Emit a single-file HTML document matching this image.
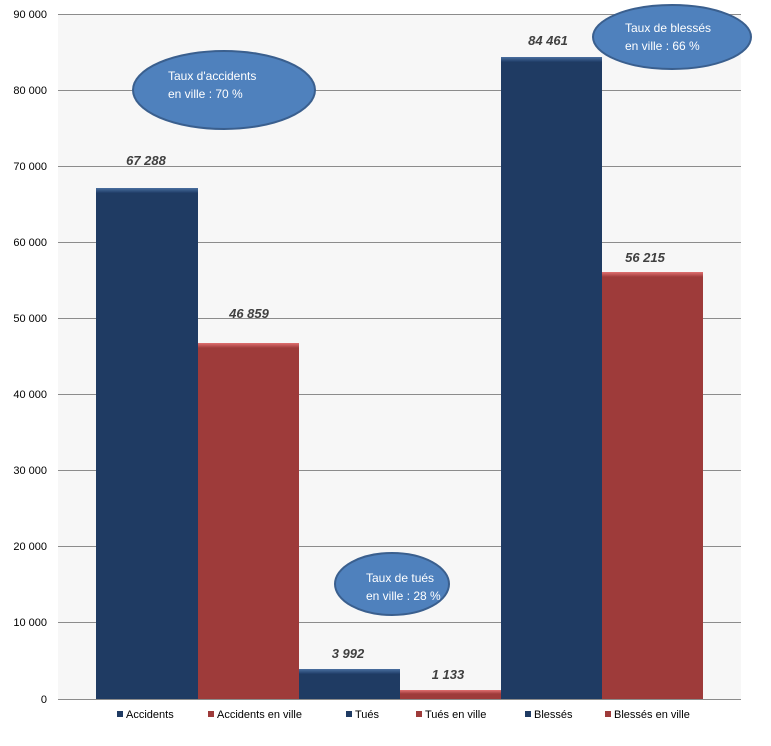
<!DOCTYPE html>
<html><head><meta charset="utf-8"><style>body{margin:0;background:#fff}svg{display:block}</style></head><body>
<svg width="771" height="746" xmlns="http://www.w3.org/2000/svg" font-family="Liberation Sans, sans-serif">
<defs>
<linearGradient id="b" x1="0" y1="0" x2="0" y2="1"><stop offset="0" stop-color="#4a6fa0"/><stop offset="1" stop-color="#1f3c66"/></linearGradient>
<linearGradient id="r" x1="0" y1="0" x2="0" y2="1"><stop offset="0" stop-color="#e07070"/><stop offset="1" stop-color="#9e3a3a"/></linearGradient>
</defs>
<rect x="58" y="14" width="683" height="685" fill="#f7f7f7"/>
<g stroke="#8c8c8c" stroke-width="1">
<line x1="58" y1="14.5" x2="741" y2="14.5"/><line x1="58" y1="90.5" x2="741" y2="90.5"/><line x1="58" y1="166.5" x2="741" y2="166.5"/><line x1="58" y1="242.5" x2="741" y2="242.5"/><line x1="58" y1="318.5" x2="741" y2="318.5"/><line x1="58" y1="394.5" x2="741" y2="394.5"/><line x1="58" y1="470.5" x2="741" y2="470.5"/><line x1="58" y1="546.5" x2="741" y2="546.5"/><line x1="58" y1="622.5" x2="741" y2="622.5"/><line x1="58" y1="699.5" x2="741" y2="699.5"/>
</g>
<g font-size="11" fill="#000" text-anchor="end">
<text x="47" y="18">90 000</text><text x="47" y="94">80 000</text><text x="47" y="170">70 000</text><text x="47" y="246">60 000</text><text x="47" y="322">50 000</text><text x="47" y="398">40 000</text><text x="47" y="474">30 000</text><text x="47" y="550">20 000</text><text x="47" y="626">10 000</text><text x="47" y="703">0</text>
</g>
<g>
<rect x="96" y="188" width="102" height="511" fill="#1f3b63"/><rect x="96" y="188" width="102" height="5" fill="url(#b)"/>
<rect x="198" y="343" width="101" height="356" fill="#9e3b3a"/><rect x="198" y="343" width="101" height="5" fill="url(#r)"/>
<rect x="299" y="669" width="101" height="30" fill="#1f3b63"/><rect x="299" y="669" width="101" height="5" fill="url(#b)"/>
<rect x="400" y="690" width="101" height="9" fill="#9e3b3a"/><rect x="400" y="690" width="101" height="4" fill="url(#r)"/>
<rect x="501" y="57" width="101" height="642" fill="#1f3b63"/><rect x="501" y="57" width="101" height="5" fill="url(#b)"/>
<rect x="602" y="272" width="101" height="427" fill="#9e3b3a"/><rect x="602" y="272" width="101" height="5" fill="url(#r)"/>
</g>
<g font-size="13" font-weight="bold" font-style="italic" fill="#404040" text-anchor="middle">
<text x="146" y="165">67 288</text><text x="249" y="318">46 859</text><text x="348" y="658">3 992</text><text x="448" y="679">1 133</text><text x="548" y="45">84 461</text><text x="645" y="262">56 215</text>
</g>
<g fill="#4f81bd" stroke="#3a5f8e" stroke-width="2">
<ellipse cx="224" cy="90" rx="91" ry="39"/><ellipse cx="672" cy="37" rx="79" ry="32"/><ellipse cx="392" cy="584" rx="57" ry="31"/>
</g>
<g font-size="12" fill="#fff">
<text x="168" y="80">Taux d'accidents</text><text x="168" y="98">en ville : 70 %</text>
<text x="625" y="32">Taux de blessés</text><text x="625" y="50">en ville : 66 %</text>
<text x="366" y="582">Taux de tués</text><text x="366" y="600">en ville : 28 %</text>
</g>
<g font-size="11" fill="#000">
<rect x="117" y="711" width="6" height="6" fill="#1f3b63"/><text x="126" y="718">Accidents</text>
<rect x="208" y="711" width="6" height="6" fill="#9e3b3a"/><text x="217" y="718">Accidents en ville</text>
<rect x="346" y="711" width="6" height="6" fill="#1f3b63"/><text x="355" y="718">Tués</text>
<rect x="416" y="711" width="6" height="6" fill="#9e3b3a"/><text x="425" y="718">Tués en ville</text>
<rect x="525" y="711" width="6" height="6" fill="#1f3b63"/><text x="534" y="718">Blessés</text>
<rect x="605" y="711" width="6" height="6" fill="#9e3b3a"/><text x="614" y="718">Blessés en ville</text>
</g>
</svg>
</body></html>
